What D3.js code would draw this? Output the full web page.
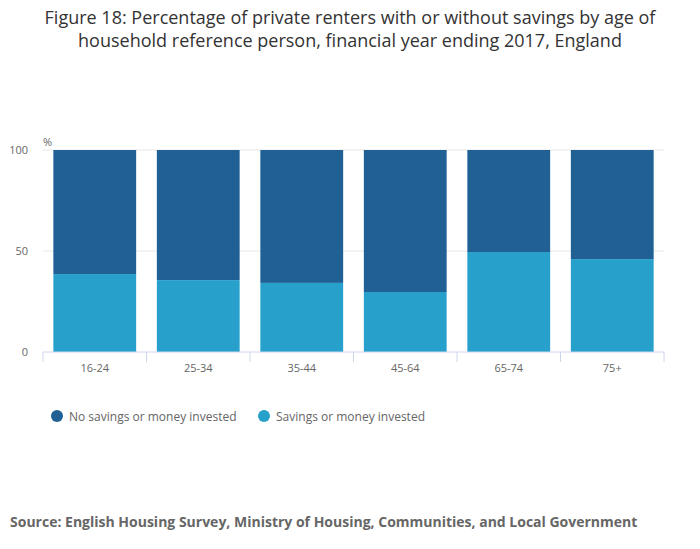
<!DOCTYPE html>
<html>
<head>
<meta charset="utf-8">
<script src="https://cdn.jsdelivr.net/npm/d3@7"></script>
<style>
  body { margin: 0; background: #fff; font-family: "Open Sans", sans-serif; }
  svg text { font-family: "Open Sans", sans-serif; }
</style>
</head>
<body>
<svg id="chart" width="700" height="549"></svg>
<script>
// Age groups and percentages
const ageGroups = ['16-24', '25-34', '35-44', '45-64', '65-74', '75+'];
const savings = [38.6, 35.6, 34.2, 29.7, 49.5, 46.0];
const noSavings = savings.map(v => 100 - v);
const seriesNames = ['No savings or money invested', 'Savings or money invested'];
const seriesColors = ['#206095', '#27a0cc'];
const yTicks = [0, 50, 100];

const svg = d3.select('#chart');
const margin = {left: 43, right: 36, top: 150, bottom: 197};
const width = 700 - margin.left - margin.right;
const height = 549 - margin.top - margin.bottom;

// Title
svg.append('text')
  .attr('x', 350).attr('y', 24)
  .attr('text-anchor', 'middle')
  .attr('font-size', 18).attr('fill', '#333')
  .selectAll('tspan')
  .data(['Figure 18: Percentage of private renters with or without savings by age of',
         'household reference person, financial year ending 2017, England'])
  .join('tspan')
  .attr('x', 350)
  .attr('dy', (d, i) => i ? 23 : 0)
  .text(d => d);

const g = svg.append('g').attr('transform', `translate(${margin.left},${margin.top})`);

const x = d3.scaleBand().domain(ageGroups).range([0, width]).paddingInner(0.2).paddingOuter(0.1);
const y = d3.scaleLinear().domain([0, 100]).range([height, 0]);

// Gridlines
g.selectAll('.grid')
  .data(yTicks.filter(t => t > 0))
  .join('line')
  .attr('x1', 0).attr('x2', width)
  .attr('y1', d => y(d)).attr('y2', d => y(d))
  .attr('stroke', '#e6e6e6');

// Y labels
g.selectAll('.ylab')
  .data(yTicks)
  .join('text')
  .attr('x', -15).attr('y', d => y(d) + 4)
  .attr('text-anchor', 'end')
  .attr('font-size', 11).attr('fill', '#666')
  .text(d => d);

g.append('text')
  .attr('x', 0).attr('y', -4)
  .attr('font-size', 11).attr('fill', '#666')
  .text('%');

// Stacked bars
const stackData = ageGroups.map((a, i) => ({age: a, savings: savings[i], noSavings: noSavings[i]}));
const stack = d3.stack().keys(['noSavings', 'savings']).order(d3.stackOrderReverse);
const layers = stack(stackData);

g.selectAll('.layer')
  .data(layers)
  .join('g')
  .attr('fill', (d, i) => seriesColors[i])
  .selectAll('rect')
  .data(d => d)
  .join('rect')
  .attr('x', d => x(d.data.age))
  .attr('width', x.bandwidth())
  .attr('y', d => y(d[1]))
  .attr('height', d => y(d[0]) - y(d[1]));

// X axis
const xAxis = g.append('g').attr('transform', `translate(0,${height})`);
xAxis.append('line')
  .attr('x1', 0).attr('x2', width)
  .attr('stroke', '#ccd6eb');
const step = x.step();
const tickPos = d3.range(ageGroups.length + 1).map(i => i * width / ageGroups.length);
xAxis.selectAll('.tick')
  .data(tickPos)
  .join('line')
  .attr('x1', d => d).attr('x2', d => d)
  .attr('y1', 0).attr('y2', 10)
  .attr('stroke', '#ccd6eb');
xAxis.selectAll('.xlab')
  .data(ageGroups)
  .join('text')
  .attr('x', d => x(d) + x.bandwidth() / 2)
  .attr('y', 20)
  .attr('text-anchor', 'middle')
  .attr('font-size', 11).attr('fill', '#666')
  .text(d => d);

// Legend
const legendX = [57, 264];
const legend = svg.selectAll('.legend')
  .data(seriesNames)
  .join('g')
  .attr('transform', (d, i) => `translate(${legendX[i]},416)`);
legend.append('circle').attr('r', 6).attr('fill', (d, i) => seriesColors[i]);
legend.append('text')
  .attr('x', 12).attr('y', 5)
  .attr('font-size', 12).attr('fill', '#666')
  .text(d => d);

// Source
svg.append('text')
  .attr('x', 10).attr('y', 527)
  .attr('font-size', 14).attr('font-weight', 'bold').attr('fill', '#666')
  .text('Source: English Housing Survey, Ministry of Housing, Communities, and Local Government');
</script>
</body>
</html>
